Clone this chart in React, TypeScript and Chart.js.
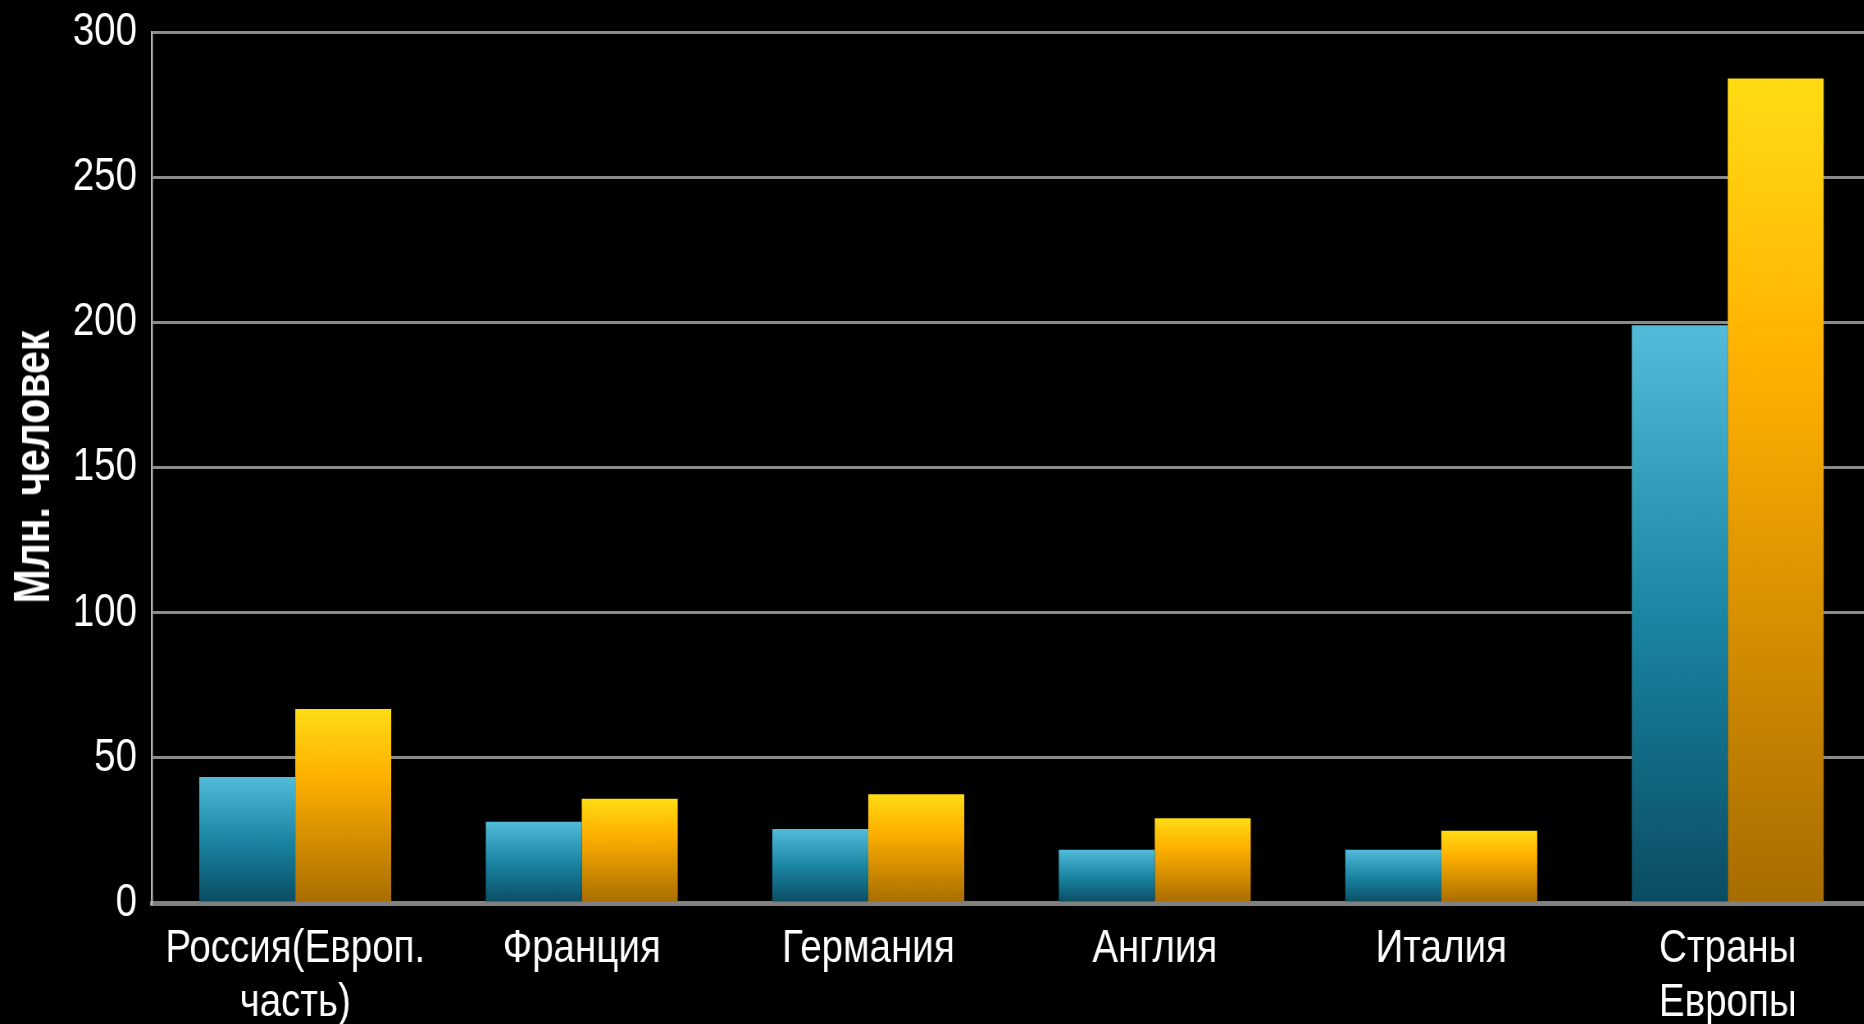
import React, { useEffect, useRef } from "react";
import { Chart, registerables } from "chart.js";

Chart.register(...registerables);

const categories: (string | string[])[] = [
  ["Россия(Европ.", "часть)"],
  "Франция",
  "Германия",
  "Англия",
  "Италия",
  ["Страны", "Европы"],
];
const seriesBlue = [43.4, 28.0, 25.5, 18.3, 18.3, 199];
const seriesOrange = [66.8, 35.9, 37.5, 29.2, 24.9, 284];
const yTicks = [0, 50, 100, 150, 200, 250, 300];
const yTitle = "Млн. человек";

const FONT = "'Liberation Sans', Arial, sans-serif";

// visible size and horizontal "narrow font" compression of the canvas
const VIEW_W = 1871;
const VIEW_H = 1024;
const CANVAS_W = 2282;
const SX = VIEW_W / CANVAS_W;

function gradientFor(stops: [number, string][]) {
  return (ctx: any) => {
    const chart = ctx.chart;
    const area = chart.chartArea;
    const v = ctx.raw;
    if (!area || typeof v !== "number") return stops[0][1];
    const ys = chart.scales.y;
    const top = ys.getPixelForValue(v);
    const bottom = ys.getPixelForValue(0);
    const g = chart.ctx.createLinearGradient(0, top, 0, bottom);
    stops.forEach(([o, c]) => g.addColorStop(o, c));
    return g;
  };
}

export default function App() {
  const ref = useRef<HTMLCanvasElement>(null);
  useEffect(() => {
    document.body.style.background = "#000";
    const chart = new Chart(ref.current!, {
      type: "bar",
      data: {
        labels: categories,
        datasets: [
          {
            label: "Ряд 1",
            data: seriesBlue,
            backgroundColor: gradientFor([
              [0, "#52bcda"],
              [0.5, "#1a86a4"],
              [1, "#0a4c62"],
            ]),
            borderWidth: 0,
          },
          {
            label: "Ряд 2",
            data: seriesOrange,
            backgroundColor: gradientFor([
              [0, "#ffdc14"],
              [0.35, "#ffb000"],
              [1, "#a86c00"],
            ]),
            borderWidth: 0,
          },
        ],
      },
      options: {
        animation: false,
        responsive: false,
        maintainAspectRatio: false,
        devicePixelRatio: 1,
        layout: { padding: { top: 32, right: 0, left: 0, bottom: 0 } },
        plugins: {
          legend: { display: false },
          tooltip: { enabled: false },
          title: { display: false },
        },
        datasets: {
          bar: { barPercentage: 1, categoryPercentage: 0.67 },
        },
        scales: {
          x: {
            grid: { display: false, drawTicks: false },
            border: { display: true, color: "#808080", width: 5 },
            ticks: {
              color: "#ffffff",
              font: { family: FONT, size: 47, lineHeight: 1.15 },
              padding: 19,
              maxRotation: 0,
              autoSkip: false,
            },
            afterFit: (s: any) => {
              s.height = 121;
              s.paddingLeft = 0;
              s.paddingRight = 0;
            },
          },
          y: {
            min: 0,
            max: 300,
            afterBuildTicks: (s: any) => {
              s.ticks = yTicks.map((v) => ({ value: v }));
            },
            grid: { color: "#8a8a8a", lineWidth: 3, drawTicks: false },
            border: { display: true, color: "#b4b4b4", width: 2 / SX },
            ticks: {
              color: "#ffffff",
              font: { family: FONT, size: 47 },
              padding: 15 / SX,
            },
            title: { display: false, text: yTitle },
            afterFit: (s: any) => {
              s.width = 152 / SX;
              s.paddingTop = 0;
              s.paddingBottom = 0;
            },
          },
        },
      },
    });
    return () => chart.destroy();
  }, []);
  return (
    <div
      style={{
        position: "fixed",
        left: 0,
        top: 0,
        width: VIEW_W,
        height: VIEW_H,
        background: "#000",
        overflow: "hidden",
      }}
    >
      <canvas
        ref={ref}
        width={CANVAS_W}
        height={VIEW_H}
        style={{ display: "block", width: VIEW_W, height: VIEW_H }}
      />
      <div
        style={{
          position: "absolute",
          left: 32,
          top: 467,
          transform: "translate(-50%, -50%) rotate(-90deg) scaleX(0.82)",
          color: "#fff",
          font: `bold 50px ${FONT}`,
          lineHeight: 1,
          whiteSpace: "nowrap",
        }}
      >
        {yTitle}
      </div>
    </div>
  );
}
